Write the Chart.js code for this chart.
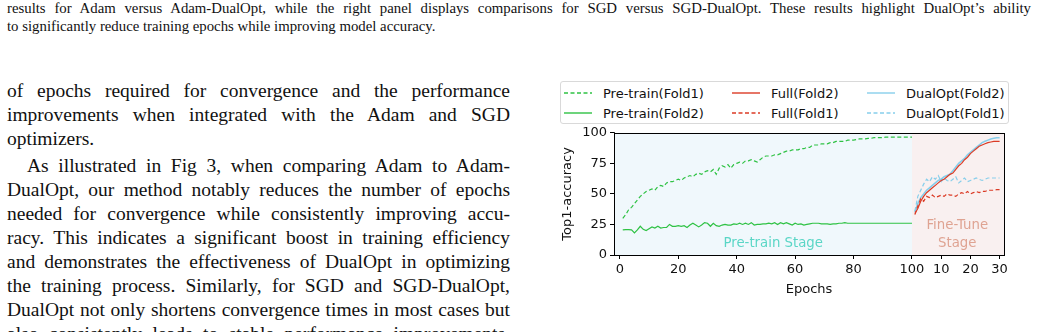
<!DOCTYPE html>
<html>
<head>
<meta charset="utf-8">
<script src="https://cdn.jsdelivr.net/npm/chart.js@4"></script>
<style>
  html, body { margin: 0; padding: 0; background: #fff; width: 1041px; height: 332px; overflow: hidden; }
  body { position: relative; font-family: "Liberation Serif", serif; color: #111; }
  .caption { position: absolute; left: 7px; top: 0; width: 1024px; font-size: 14.8px; line-height: 17.5px; }
  .body { position: absolute; left: 7px; top: 79px; width: 503px; font-size: 19.5px; line-height: 24px; }
  .j { text-align: justify; text-align-last: justify; white-space: nowrap; }
  .l { text-align: left; white-space: nowrap; }
  .ind { text-indent: 20px; }
  .gap { margin-top: 3px; }
  #legend { position: absolute; left: 560px; top: 81px; width: 447px; height: 41px; border: 1px solid #d9d9d9; border-radius: 3px;
    font-family: "DejaVu Sans", sans-serif; font-size: 13px; color: #111; background: #fff; }
  #legend .item { position: absolute; display: flex; align-items: center; height: 20px; }
  #legend svg { margin-right: 11px; }
  #wrap { position: absolute; left: 545px; top: 122px; width: 480px; height: 184px; }
</style>
</head>
<body>
<div class="caption">
  <div class="j">results for Adam versus Adam-DualOpt, while the right panel displays comparisons for SGD versus SGD-DualOpt. These results highlight DualOpt’s ability</div>
  <div class="l">to significantly reduce training epochs while improving model accuracy.</div>
</div>
<div class="body">
  <div class="j">of epochs required for convergence and the performance</div>
  <div class="j">improvements when integrated with the Adam and SGD</div>
  <div class="l">optimizers.</div>
  <div class="j ind gap">As illustrated in Fig 3, when comparing Adam to Adam-</div>
  <div class="j">DualOpt, our method notably reduces the number of epochs</div>
  <div class="j">needed for convergence while consistently improving accu-</div>
  <div class="j">racy. This indicates a significant boost in training efficiency</div>
  <div class="j">and demonstrates the effectiveness of DualOpt in optimizing</div>
  <div class="j">the training process. Similarly, for SGD and SGD-DualOpt,</div>
  <div class="j">DualOpt not only shortens convergence times in most cases but</div>
  <div class="j">also consistently leads to stable performance improvements.</div>
</div>
<div id="legend"></div>
<div id="wrap"><canvas id="chart" width="480" height="184"></canvas></div>
<script>
// pre-train stage, epochs 1..100
const pretrainFold1 = [
  30, 33, 37, 39, 42, 45, 48, 50, 52, 53,
  54, 53, 56, 57, 56, 59, 60, 60, 61, 62,
  61, 63, 64, 65, 64, 66, 67, 66, 68, 69,
  68, 70, 66, 71, 73, 72, 74, 71, 74, 75,
  76, 75, 77, 77, 78, 77, 76, 78, 80, 81,
  81, 81, 82, 82, 83, 84, 85, 85, 86, 86,
  86, 87, 87, 88, 88, 90, 90, 90, 91, 91,
  91, 92, 92, 93, 93, 93, 93, 94, 94, 94,
  94.5, 95, 95, 95, 95.5, 95.5, 96, 96, 96, 96,
  96.5, 96.5, 96.5, 96.5, 96.5, 96.5, 96.5, 96.5, 96.5, 96.5
];
const pretrainFold2 = [
  20.5, 20.8, 20.7, 20.5, 18, 20.5, 23.5, 21, 20, 21.5,
  23, 22, 23.5, 22, 22.5, 22.5, 25, 23.5, 23.5, 24,
  23.5, 24, 22.5, 24.5, 26, 24.5, 23, 24.5, 26.5, 26,
  23.5, 26, 24, 23.5, 24.5, 25, 24.5, 24.5, 25.5, 25,
  26, 25, 26, 25, 26.5, 24.5, 25, 25, 25.5, 25.5,
  26, 25.5, 26.5, 25, 26.5, 25.5, 26.5, 25.5, 24.5, 26,
  25, 25.5, 24.5, 25, 25.5, 26, 26, 26, 25.5, 25.5,
  25.5, 25, 25.5, 25.5, 26, 26, 26.5, 26, 26, 26,
  26, 26, 26, 26, 26, 26, 26, 26, 26, 26,
  26, 26, 26, 26, 26, 26, 26, 26, 26, 26
];
// fine-tune stage, epochs 1..30 (drawn after epoch 100)
const fullFold2 = [34, 38, 44, 48, 51, 53, 55, 57, 59, 61, 62, 64, 66, 67, 70, 73, 75, 78, 80, 83, 85, 87, 89, 90, 91, 92, 92.5, 93, 93, 93];
const fullFold1 = [33, 40, 46, 44, 48, 47, 49, 47, 48, 49, 48, 50, 49, 49, 48, 50, 51, 50, 52, 50, 51, 52, 51, 52, 52, 53, 53, 53, 53.5, 53.5];
const dualFold2 = [35, 42, 47, 50, 53, 55, 57, 59, 61, 62, 64, 65, 66, 69, 72, 75, 77, 79, 82, 84, 86, 88, 90, 92, 93, 94, 95, 95.5, 96, 96];
const dualFold1 = [36, 48, 53, 58, 62, 60, 64, 62, 65, 60, 63, 61, 60, 62, 64, 59, 61, 63, 60, 61, 62, 63, 62, 61, 62, 63, 63, 63, 63, 63];

const xTicks = [0, 20, 40, 60, 80, 100, 110, 120, 130];
const yTicks = [0, 25, 50, 75, 100];
const PRETRAIN_END = 100;

const GREEN = '#2fc244';
const RED = '#db3b26';
const BLUE = '#87ceeb';

const pre = arr => arr.map((v, i) => ({ x: i + 1, y: v }));
const ft = arr => arr.map((v, i) => ({ x: PRETRAIN_END + i + 1, y: v }));

const DASH = [4, 2.5];

const datasets = [
  { label: 'Pre-train(Fold1)', data: pre(pretrainFold1), borderColor: GREEN, borderDash: DASH },
  { label: 'Pre-train(Fold2)', data: pre(pretrainFold2), borderColor: GREEN },
  { label: 'Full(Fold2)', data: ft(fullFold2), borderColor: RED },
  { label: 'Full(Fold1)', data: ft(fullFold1), borderColor: RED, borderDash: DASH },
  { label: 'DualOpt(Fold2)', data: ft(dualFold2), borderColor: BLUE, borderWidth: 1.6 },
  { label: 'DualOpt(Fold1)', data: ft(dualFold1), borderColor: BLUE, borderDash: DASH }
];

// shaded stages + stage names
const stagePlugin = {
  id: 'stages',
  beforeDatasetsDraw(chart) {
    const { ctx, chartArea: a, scales: { x, y } } = chart;
    const split = x.getPixelForValue(PRETRAIN_END);
    ctx.save();
    ctx.fillStyle = '#f0f8fc';
    ctx.fillRect(a.left, a.top, split - a.left, a.bottom - a.top);
    ctx.fillStyle = '#f9f0f0';
    ctx.fillRect(split, a.top, a.right - split, a.bottom - a.top);
    ctx.font = '13.3px "DejaVu Sans"';
    ctx.textAlign = 'center';
    ctx.textBaseline = 'middle';
    ctx.fillStyle = '#5ad6c6';
    ctx.fillText('Pre-train Stage', x.getPixelForValue(52.5), y.getPixelForValue(9));
    ctx.fillStyle = '#dfa392';
    ctx.fillText('Fine-Tune', x.getPixelForValue(115.5), y.getPixelForValue(24));
    ctx.fillText('Stage', x.getPixelForValue(115.5), y.getPixelForValue(9));
    ctx.restore();
  },
  afterDraw(chart) {
    const { ctx, chartArea: a } = chart;
    ctx.save();
    ctx.strokeStyle = '#000';
    ctx.lineWidth = 1;
    ctx.strokeRect(Math.round(a.left) + 0.5, Math.round(a.top) + 0.5, Math.round(a.right - a.left), Math.round(a.bottom - a.top));
    ctx.restore();
  }
};

Chart.defaults.font.family = '"DejaVu Sans", sans-serif';
Chart.defaults.font.size = 13;
Chart.defaults.color = '#111';

const chart = new Chart(document.getElementById('chart'), {
  type: 'line',
  data: { datasets: datasets },
  options: {
    responsive: false,
    animation: false,
    layout: { padding: { top: 2, right: 21, left: 0, bottom: 0 } },
    plugins: { legend: { display: false }, tooltip: { enabled: false } },
    elements: {
      point: { radius: 0 },
      line: { tension: 0, borderWidth: 1.2, fill: false }
    },
    scales: {
      x: {
        type: 'linear',
        min: -2,
        max: 131.5,
        afterBuildTicks: s => { s.ticks = xTicks.map(v => ({ value: v })); },
        afterFit: s => { s.height = 51; },
        ticks: {
          autoSkip: false,
          maxRotation: 0,
          padding: 3,
          color: '#111',
          callback: v => (v > PRETRAIN_END ? v - PRETRAIN_END : v)
        },
        grid: { drawOnChartArea: false, tickLength: 4, color: '#000' },
        border: { color: '#000' },
        title: { display: true, text: 'Epochs', color: '#111', padding: { top: 0, bottom: 9 } }
      },
      y: {
        min: 0,
        max: 100,
        afterBuildTicks: s => { s.ticks = yTicks.map(v => ({ value: v })); },
        afterFit: s => { s.width = 69; },
        ticks: { padding: 3, color: '#111' },
        grid: { drawOnChartArea: false, tickLength: 4, color: '#000' },
        border: { color: '#000' },
        title: { display: true, text: 'Top1-accuracy', color: '#111', padding: { top: 15, bottom: 2 } }
      }
    }
  },
  plugins: [stagePlugin]
});

// legend laid out in three columns like the original figure
const legendOrder = [
  ['Pre-train(Fold1)', 0, 0], ['Pre-train(Fold2)', 0, 1],
  ['Full(Fold2)', 1, 0], ['Full(Fold1)', 1, 1],
  ['DualOpt(Fold2)', 2, 0], ['DualOpt(Fold1)', 2, 1]
];
const colLeft = [3, 171, 306];
const legend = document.getElementById('legend');
legendOrder.forEach(([label, col, row]) => {
  const ds = chart.data.datasets.find(d => d.label === label);
  const dash = ds.borderDash ? 'stroke-dasharray="4 2.5"' : '';
  const item = document.createElement('div');
  item.className = 'item';
  item.style.left = colLeft[col] + 'px';
  item.style.top = (1 + row * 20) + 'px';
  item.innerHTML = '<svg width="28" height="4"><line x1="0" y1="2" x2="28" y2="2" stroke="' + ds.borderColor +
    '" stroke-width="1.4" ' + dash + '/></svg><span>' + label + '</span>';
  legend.appendChild(item);
});
</script>
</body>
</html>
